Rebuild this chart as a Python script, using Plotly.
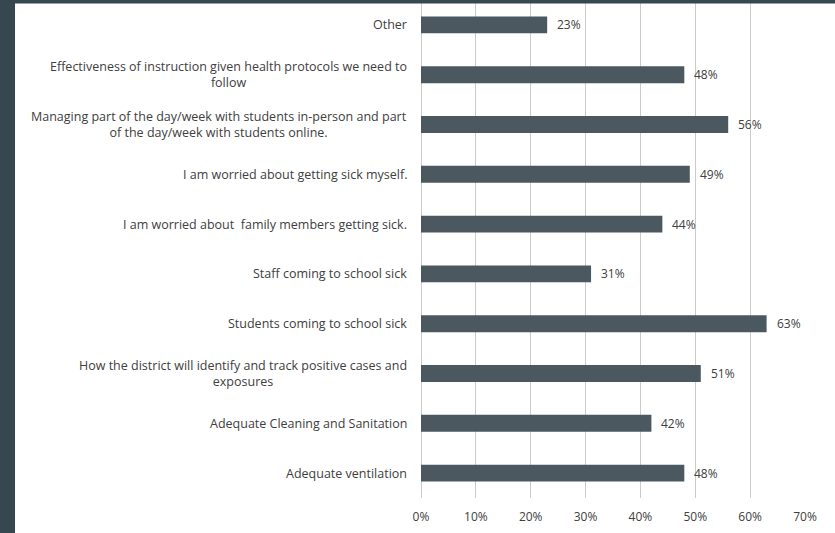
import plotly.graph_objects as go

categories = [
    "Other",
    "Effectiveness of instruction given health protocols we need to<br>follow",
    "Managing part of the day/week with students in-person and part<br>of the day/week with students online.",
    "I am worried about getting sick myself.",
    "I am worried about  family members getting sick.",
    "Staff coming to school sick",
    "Students coming to school sick",
    "How the district will identify and track positive cases and<br>exposures",
    "Adequate Cleaning and Sanitation",
    "Adequate ventilation",
]
values = [0.23, 0.48, 0.56, 0.49, 0.44, 0.31, 0.63, 0.51, 0.42, 0.48]
x_ticks = [0, 0.1, 0.2, 0.3, 0.4, 0.5, 0.6, 0.7]
x_tick_labels = ["0%", "10%", "20%", "30%", "40%", "50%", "60%", "70%"]

W, H = 835, 533
L, R, T, B = 421, 30, 0, 35
pw = W - L - R
ph = H - T - B

FONT = "Open Sans"
TXT = "#404040"

fig = go.Figure(go.Bar(
    x=values,
    y=categories,
    orientation="h",
    marker=dict(color="#4b5860", line=dict(width=0)),
    width=0.34,
    cliponaxis=False,
))

annotations = []
for c, v in zip(categories, values):
    annotations.append(dict(
        x=0, xref="paper", y=c, yref="y", text=c, showarrow=False,
        xanchor="right", yanchor="middle", align="center", xshift=-12,
        font=dict(family=FONT, size=12.5, color=TXT),
    ))
    annotations.append(dict(
        x=v, xref="x", y=c, yref="y", text=f"{round(v*100)}%", showarrow=False,
        xanchor="left", yanchor="middle", xshift=8,
        font=dict(family=FONT, size=12, color=TXT),
    ))

band = "#37474f"
fig.update_layout(
    width=W, height=H,
    margin=dict(l=L, r=R, t=T, b=B),
    paper_bgcolor="white",
    plot_bgcolor="white",
    showlegend=False,
    font=dict(family=FONT, size=12, color=TXT),
    xaxis=dict(
        range=[0, 0.7],
        tickvals=x_ticks,
        ticktext=x_tick_labels,
        showgrid=True, gridcolor="#cbcbcb", gridwidth=1,
        zeroline=True, zerolinecolor="#cbcbcb", zerolinewidth=1,
        showline=False,
        tickfont=dict(family=FONT, size=12, color=TXT),
        ticks="", ticklabelstandoff=10,
    ),
    yaxis=dict(
        autorange="reversed",
        showgrid=False,
        showline=False,
        ticks="",
        showticklabels=False,
    ),
    annotations=annotations,
    shapes=[
        dict(type="rect", xref="paper", yref="paper",
             x0=(0 - L) / pw, x1=(15 - L) / pw, y0=(0 - B) / ph - 0.01, y1=1 + 0.01,
             fillcolor=band, line=dict(width=0), layer="above"),
        dict(type="rect", xref="paper", yref="paper",
             x0=(0 - L) / pw, x1=(W - L) / pw + 0.01, y0=1 - 3.5 / ph, y1=1 + 0.01,
             fillcolor=band, line=dict(width=0), layer="above"),
    ],
)

fig.write_html("out.html")
